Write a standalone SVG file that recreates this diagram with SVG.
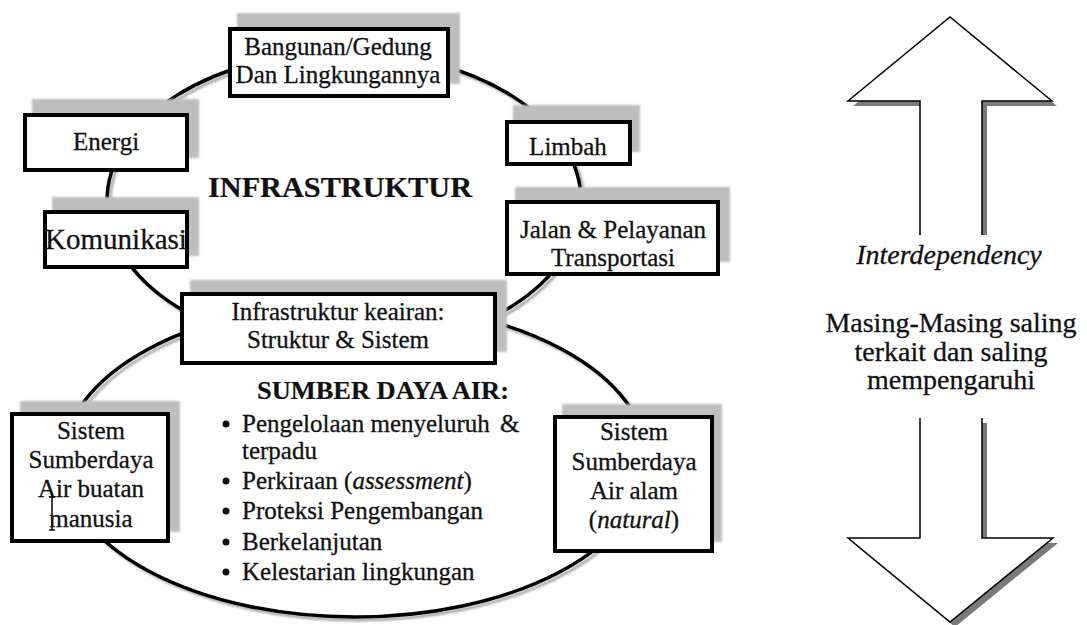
<svg xmlns="http://www.w3.org/2000/svg" width="1087" height="625" viewBox="0 0 1087 625">
  <defs>
    <filter id="soft" x="-10%" y="-10%" width="120%" height="120%">
      <feGaussianBlur stdDeviation="1.1"/>
    </filter>
    <style>
      .t{font-family:'Liberation Serif','Times New Roman',serif;font-size:25px;fill:#111;stroke:#111;stroke-width:0.3;text-anchor:middle}
      .tl{font-family:'Liberation Serif','Times New Roman',serif;font-size:25px;fill:#111;stroke:#111;stroke-width:0.3}
      .big{font-size:28px}
      .b{font-weight:bold;stroke-width:0.2}
      .i{font-style:italic}
      .box{fill:#fff;stroke:#000;stroke-width:4}
      .shadow{fill:#bebebe;filter:url(#soft)}
      .ring{fill:none;stroke:#000;stroke-width:3.5}
      .ring-sh{fill:none;stroke:#a8a8a8;stroke-width:3;filter:url(#soft)}
      .arrow{fill:#fff;stroke:#000;stroke-width:1.5;stroke-linejoin:miter}
      .arrow-sh{fill:#7a7a7a}
      .dot{fill:#111}
    </style>
  </defs>

  <rect width="1087" height="625" fill="#fff"/>

  <!-- rings linking the nodes -->
  <g id="connectors">
    <ellipse class="ring-sh" cx="347" cy="204" rx="237" ry="149"/>
    <ellipse class="ring" cx="344" cy="201" rx="237" ry="149"/>
    <ellipse class="ring-sh" cx="358" cy="463" rx="292" ry="157"/>
    <ellipse class="ring" cx="355" cy="460" rx="292" ry="157"/>
  </g>

  <g id="infrastruktur-label">
    <text class="t b" x="340" y="197" style="font-size:29px" textLength="264" lengthAdjust="spacingAndGlyphs">INFRASTRUKTUR</text>
  </g>

  <g id="bangunan">
    <rect class="shadow" x="237" y="13" width="223" height="71"/>
    <rect class="box" x="230" y="29" width="218" height="67"/>
    <text class="t" x="338" y="55">Bangunan/Gedung</text>
    <text class="t" x="338" y="83">Dan Lingkungannya</text>
  </g>

  <g id="energi">
    <rect class="shadow" x="32" y="99" width="167" height="59"/>
    <rect class="box" x="25" y="115" width="162" height="55"/>
    <text class="t" x="106" y="150">Energi</text>
  </g>

  <g id="komunikasi">
    <rect class="shadow" x="52" y="197" width="147" height="59"/>
    <rect class="box" x="45" y="212" width="142" height="55"/>
    <text class="t" x="116" y="249" style="font-size:29px">Komunikasi</text>
  </g>

  <g id="limbah">
    <rect class="shadow" x="513" y="105" width="127" height="47"/>
    <rect class="box" x="507" y="122" width="123" height="42"/>
    <text class="t" x="568" y="155">Limbah</text>
  </g>

  <g id="jalan">
    <rect class="shadow" x="515" y="187" width="215" height="75"/>
    <rect class="box" x="507" y="202" width="211" height="72"/>
    <text class="t" x="613" y="238">Jalan &amp; Pelayanan</text>
    <text class="t" x="613" y="266">Transportasi</text>
  </g>

  <g id="keairan">
    <rect class="shadow" x="190" y="280" width="317" height="72"/>
    <rect class="box" x="182" y="294" width="313" height="69"/>
    <text class="t" x="338" y="320">Infrastruktur keairan:</text>
    <text class="t" x="338" y="348">Struktur &amp; Sistem</text>
  </g>

  <g id="sumber-daya-air">
    <text class="tl b" x="257" y="399" style="font-size:25px" textLength="252" lengthAdjust="spacingAndGlyphs">SUMBER DAYA AIR:</text>
    <circle class="dot" cx="226" cy="424" r="3.5"/>
    <text class="tl" x="242" y="432">Pengelolaan menyeluruh<tspan x="500">&amp;</tspan></text>
    <text class="tl" x="242" y="459">terpadu</text>
    <circle class="dot" cx="226" cy="481" r="3.5"/>
    <text class="tl" x="242" y="489">Perkiraan (<tspan class="i">assessment</tspan>)</text>
    <circle class="dot" cx="226" cy="511" r="3.5"/>
    <text class="tl" x="242" y="519">Proteksi Pengembangan</text>
    <circle class="dot" cx="226" cy="542" r="3.5"/>
    <text class="tl" x="242" y="550">Berkelanjutan</text>
    <circle class="dot" cx="226" cy="572" r="3.5"/>
    <text class="tl" x="242" y="580">Kelestarian lingkungan</text>
  </g>

  <g id="sda-buatan">
    <rect class="shadow" x="20" y="401" width="160" height="131"/>
    <rect class="box" x="12" y="414" width="156" height="127"/>
    <text class="t" x="91" y="439">Sistem</text>
    <text class="t" x="91" y="468">Sumberdaya</text>
    <text class="t" x="91" y="497">Air buatan</text>
    <text class="t" x="91" y="527">manusia</text>
    <!-- text cursor left in the box -->
    <path d="M52 497 V530 M49 497 H55 M49 530 H55" stroke="#111" stroke-width="1.6" fill="none"/>
  </g>

  <g id="sda-alam">
    <rect class="shadow" x="562" y="404" width="160" height="138"/>
    <rect class="box" x="555" y="417" width="157" height="134"/>
    <text class="t" x="634" y="440">Sistem</text>
    <text class="t" x="634" y="470">Sumberdaya</text>
    <text class="t" x="634" y="499">Air alam</text>
    <text class="t" x="634" y="528">(<tspan class="i">natural</tspan>)</text>
  </g>

  <g id="arrow-up">
    <path class="arrow-sh" d="M925 235 V106 H853 L955 22 L1057 106 H987 V235 Z"/>
    <path class="arrow" d="M920 235 V101 H848 L950 17 L1052 101 H982 V235"/>
    <rect x="921" y="102" width="60" height="134" fill="#fff"/>
  </g>

  <g id="interdependency">
    <text class="t i big" x="949" y="264">Interdependency</text>
    <text class="t big" x="951" y="332">Masing-Masing saling</text>
    <text class="t big" x="951" y="361">terkait dan saling</text>
    <text class="t big" x="951" y="389">mempengaruhi</text>
  </g>

  <g id="arrow-down">
    <path class="arrow-sh" d="M925 423 V543 H853 L955 627 L1058 543 H987 V423 Z"/>
    <path class="arrow" d="M920 418 V538 H848 L950 622 L1053 538 H982 V418"/>
    <rect x="921" y="417" width="60" height="120" fill="#fff"/>
  </g>
</svg>
